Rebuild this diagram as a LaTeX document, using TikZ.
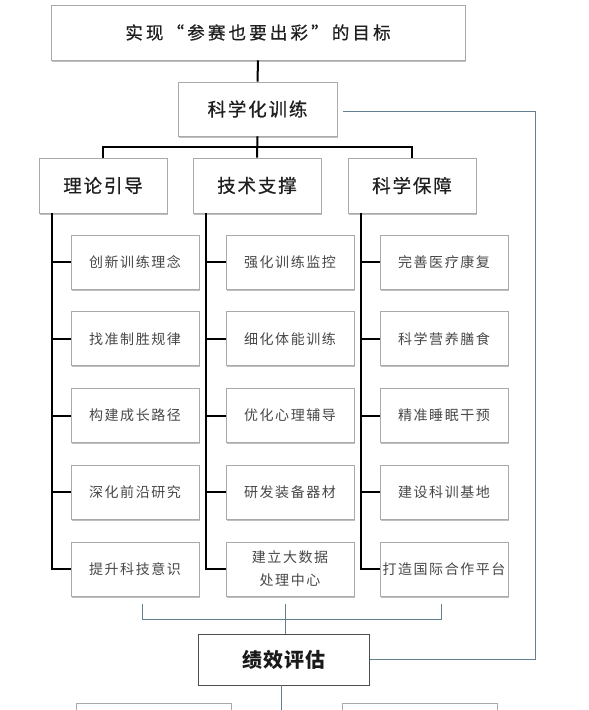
\documentclass[tikz,border=0pt]{standalone}
\usepackage{fontspec}
\setmainfont{Noto Sans CJK SC}
\newfontfamily\goalfont[LetterSpace=18,FakeBold=0.6]{Noto Sans CJK SC}
\newfontfamily\headfont[LetterSpace=10,FakeBold=0.6]{Noto Sans CJK SC}
\newfontfamily\evalfont[LetterSpace=6]{Noto Sans CJK SC}
\newfontfamily\leaffont[LetterSpace=11]{Noto Sans CJK SC}
\usetikzlibrary{shadows}
\definecolor{linkblue}{RGB}{98,128,144}
\definecolor{boxgray}{RGB}{170,170,170}
\definecolor{leaftext}{RGB}{72,72,72}
\tikzset{
  card/.style={draw=boxgray, line width=0.8pt, fill=white, inner sep=1pt, align=center,
    general shadow={shadow xshift=1.3pt, shadow yshift=-1.6pt, fill=black!25}},
  goalbox/.style={card, minimum width=414pt, minimum height=55pt,
    font=\goalfont\fontsize{17.5}{20}\selectfont, text=black!88},
  midbox/.style={card, minimum width=159pt, minimum height=54pt,
    font=\headfont\fontsize{18.5}{22}\selectfont, text=black!88},
  headbox/.style={card, minimum width=128pt, minimum height=55pt,
    font=\headfont\fontsize{18.5}{22}\selectfont, text=black!88},
  leafbox/.style={card, minimum width=128pt, minimum height=54pt,
    font=\leaffont\fontsize{14}{23}\selectfont, text=leaftext},
  evalbox/.style={draw=black!70, line width=0.9pt, fill=white, minimum width=171pt, minimum height=51pt,
    font=\evalfont\fontsize{20}{22}\selectfont\bfseries, text=black!90},
  stubbox/.style={card, minimum width=155pt, minimum height=40pt},
  trunk/.style={draw=black, line width=2pt},
  bluelink/.style={draw=linkblue, line width=1pt}
}
\begin{document}
\begin{tikzpicture}[x=1pt,y=-1pt]
\useasboundingbox (0,0) rectangle (589,710);
\fill[white] (0,0) rectangle (589,710);
\clip (0,0) rectangle (589,710);

% top levels
\node[goalbox] (goal) at (258,32.5) {实现“参赛也要出彩”的目标};
\node[midbox] (sci) at (257.5,109) {科学化训练};
\node[headbox] (h1) at (103,185.5) {理论引导};
\node[headbox] (h2) at (257,185.5) {技术支撑};
\node[headbox] (h3) at (412,185.5) {科学保障};

% leaves
\foreach \t [count=\i] in {创新训练理念,找准制胜规律,构建成长路径,深化前沿研究,提升科技意识}
  \node[leafbox] (a\i) at (135,{262+(\i-1)*76.75}) {\t};
\foreach \t [count=\i] in {强化训练监控,细化体能训练,优化心理辅导,研发装备器材,{建立大数据\\处理中心}}
  \node[leafbox] (b\i) at (290,{262+(\i-1)*76.75}) {\t};
\foreach \t [count=\i] in {完善医疗康复,科学营养膳食,精准睡眠干预,建设科训基地,打造国际合作平台}
  \node[leafbox] (c\i) at (444,{262+(\i-1)*76.75}) {\t};

% evaluation
\node[evalbox] (perf) at (284,659.5) {绩效评估};
\node[stubbox] (bl) at (153.5,723) {};
\node[stubbox] (br) at (419.5,723) {};

% black tree connectors
\draw[trunk] (goal.south) -- (sci.north);
\draw[trunk] (sci.south) -- (h2.north);
\coordinate (bus) at (257,147);
\draw[trunk] (h1.north) |- (bus) -| (h3.north);

\coordinate (k1) at ([xshift=13pt]h1.south west);
\coordinate (k2) at ([xshift=13pt]h2.south west);
\coordinate (k3) at ([xshift=13pt]h3.south west);
\draw[trunk] (k1) |- (a5.west);
\draw[trunk] (k2) |- (b5.west);
\draw[trunk] (k3) |- (c5.west);
\foreach \i in {1,...,4}{
  \draw[trunk] (a\i.west) -- (a\i.west -| k1);
  \draw[trunk] (b\i.west) -- (b\i.west -| k2);
  \draw[trunk] (c\i.west) -- (c\i.west -| k3);
}

% blue-grey links
\coordinate (loop) at (535,111);
\draw[bluelink] ([xshift=6pt]sci.east |- loop) -- (loop) |- (perf.east);
\coordinate (brkL) at (142,604);
\coordinate (brkR) at (441,604);
\coordinate (brkM) at (285,604);
\draw[bluelink] (brkL) -- ++(0,15) -| (brkR);
\draw[bluelink] (brkM) -- (brkM |- perf.north);
\coordinate (down) at (281,720);
\draw[bluelink] (perf.south -| down) -- (down);
\end{tikzpicture}
\end{document}
